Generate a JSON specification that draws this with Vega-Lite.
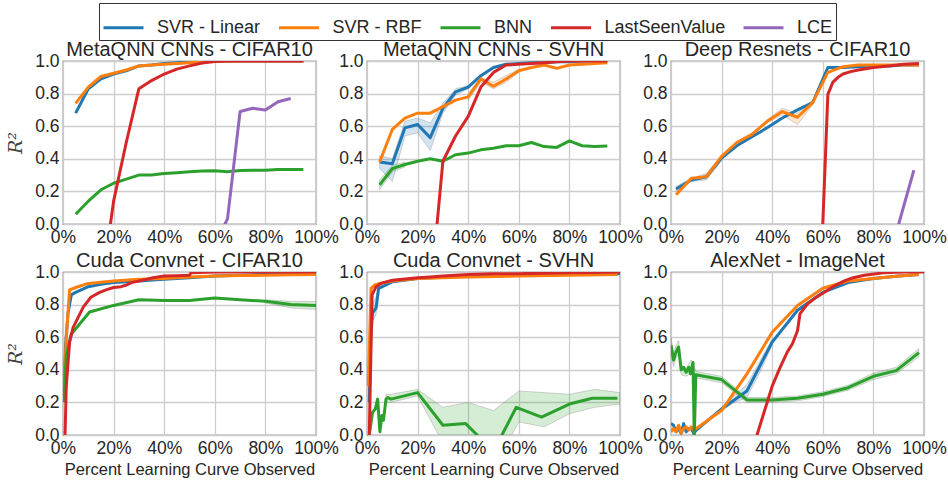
{
  "$schema": "https://vega.github.io/schema/vega-lite/v6.json",
  "padding": {"left": 6, "top": 2, "right": 0, "bottom": 0},
  "background": "white",
  "datasets": {
    "lines": [
      {"p":"A","s":"SVR - Linear","x":5,"y":0.68},{"p":"A","s":"SVR - Linear","x":10,"y":0.83},{"p":"A","s":"SVR - Linear","x":15,"y":0.89},{"p":"A","s":"SVR - Linear","x":20,"y":0.92},{"p":"A","s":"SVR - Linear","x":25,"y":0.94},{"p":"A","s":"SVR - Linear","x":30,"y":0.97},{"p":"A","s":"SVR - Linear","x":35,"y":0.975},{"p":"A","s":"SVR - Linear","x":40,"y":0.985},{"p":"A","s":"SVR - Linear","x":45,"y":0.99},{"p":"A","s":"SVR - Linear","x":50,"y":0.993},{"p":"A","s":"SVR - Linear","x":55,"y":0.996},{"p":"A","s":"SVR - Linear","x":60,"y":0.998},{"p":"A","s":"SVR - Linear","x":70,"y":1},{"p":"A","s":"SVR - Linear","x":80,"y":1},{"p":"A","s":"SVR - Linear","x":95,"y":1},
      {"p":"A","s":"SVR - RBF","x":5,"y":0.74},{"p":"A","s":"SVR - RBF","x":10,"y":0.84},{"p":"A","s":"SVR - RBF","x":15,"y":0.905},{"p":"A","s":"SVR - RBF","x":20,"y":0.925},{"p":"A","s":"SVR - RBF","x":25,"y":0.945},{"p":"A","s":"SVR - RBF","x":30,"y":0.97},{"p":"A","s":"SVR - RBF","x":35,"y":0.975},{"p":"A","s":"SVR - RBF","x":40,"y":0.98},{"p":"A","s":"SVR - RBF","x":45,"y":0.985},{"p":"A","s":"SVR - RBF","x":50,"y":0.99},{"p":"A","s":"SVR - RBF","x":55,"y":0.995},{"p":"A","s":"SVR - RBF","x":60,"y":0.998},{"p":"A","s":"SVR - RBF","x":70,"y":1},{"p":"A","s":"SVR - RBF","x":95,"y":1},
      {"p":"A","s":"BNN","x":5,"y":0.06},{"p":"A","s":"BNN","x":10,"y":0.14},{"p":"A","s":"BNN","x":15,"y":0.21},{"p":"A","s":"BNN","x":20,"y":0.25},{"p":"A","s":"BNN","x":25,"y":0.275},{"p":"A","s":"BNN","x":30,"y":0.3},{"p":"A","s":"BNN","x":35,"y":0.3},{"p":"A","s":"BNN","x":40,"y":0.31},{"p":"A","s":"BNN","x":45,"y":0.315},{"p":"A","s":"BNN","x":50,"y":0.32},{"p":"A","s":"BNN","x":55,"y":0.325},{"p":"A","s":"BNN","x":60,"y":0.327},{"p":"A","s":"BNN","x":65,"y":0.32},{"p":"A","s":"BNN","x":70,"y":0.328},{"p":"A","s":"BNN","x":75,"y":0.33},{"p":"A","s":"BNN","x":80,"y":0.33},{"p":"A","s":"BNN","x":85,"y":0.335},{"p":"A","s":"BNN","x":90,"y":0.335},{"p":"A","s":"BNN","x":95,"y":0.335},
      {"p":"A","s":"LastSeenValue","x":15,"y":-0.42},{"p":"A","s":"LastSeenValue","x":20,"y":0.14},{"p":"A","s":"LastSeenValue","x":25,"y":0.5},{"p":"A","s":"LastSeenValue","x":30,"y":0.83},{"p":"A","s":"LastSeenValue","x":35,"y":0.88},{"p":"A","s":"LastSeenValue","x":40,"y":0.92},{"p":"A","s":"LastSeenValue","x":45,"y":0.95},{"p":"A","s":"LastSeenValue","x":50,"y":0.97},{"p":"A","s":"LastSeenValue","x":55,"y":0.988},{"p":"A","s":"LastSeenValue","x":60,"y":0.997},{"p":"A","s":"LastSeenValue","x":65,"y":1},{"p":"A","s":"LastSeenValue","x":80,"y":1},{"p":"A","s":"LastSeenValue","x":95,"y":1},
      {"p":"A","s":"LCE","x":60,"y":-0.12},{"p":"A","s":"LCE","x":65,"y":0.03},{"p":"A","s":"LCE","x":70,"y":0.69},{"p":"A","s":"LCE","x":75,"y":0.71},{"p":"A","s":"LCE","x":80,"y":0.7},{"p":"A","s":"LCE","x":85,"y":0.75},{"p":"A","s":"LCE","x":90,"y":0.77},

      {"p":"B","s":"SVR - Linear","x":5,"y":0.38},{"p":"B","s":"SVR - Linear","x":10,"y":0.37},{"p":"B","s":"SVR - Linear","x":15,"y":0.59},{"p":"B","s":"SVR - Linear","x":20,"y":0.61},{"p":"B","s":"SVR - Linear","x":25,"y":0.53},{"p":"B","s":"SVR - Linear","x":30,"y":0.71},{"p":"B","s":"SVR - Linear","x":35,"y":0.81},{"p":"B","s":"SVR - Linear","x":40,"y":0.84},{"p":"B","s":"SVR - Linear","x":45,"y":0.91},{"p":"B","s":"SVR - Linear","x":50,"y":0.96},{"p":"B","s":"SVR - Linear","x":55,"y":0.98},{"p":"B","s":"SVR - Linear","x":60,"y":0.985},{"p":"B","s":"SVR - Linear","x":65,"y":0.99},{"p":"B","s":"SVR - Linear","x":70,"y":0.99},{"p":"B","s":"SVR - Linear","x":75,"y":0.995},{"p":"B","s":"SVR - Linear","x":80,"y":0.995},{"p":"B","s":"SVR - Linear","x":85,"y":1},{"p":"B","s":"SVR - Linear","x":95,"y":1},
      {"p":"B","s":"SVR - RBF","x":5,"y":0.38},{"p":"B","s":"SVR - RBF","x":10,"y":0.58},{"p":"B","s":"SVR - RBF","x":15,"y":0.65},{"p":"B","s":"SVR - RBF","x":20,"y":0.68},{"p":"B","s":"SVR - RBF","x":25,"y":0.68},{"p":"B","s":"SVR - RBF","x":30,"y":0.72},{"p":"B","s":"SVR - RBF","x":35,"y":0.76},{"p":"B","s":"SVR - RBF","x":40,"y":0.78},{"p":"B","s":"SVR - RBF","x":45,"y":0.89},{"p":"B","s":"SVR - RBF","x":50,"y":0.845},{"p":"B","s":"SVR - RBF","x":55,"y":0.89},{"p":"B","s":"SVR - RBF","x":60,"y":0.94},{"p":"B","s":"SVR - RBF","x":65,"y":0.96},{"p":"B","s":"SVR - RBF","x":70,"y":0.975},{"p":"B","s":"SVR - RBF","x":75,"y":0.955},{"p":"B","s":"SVR - RBF","x":80,"y":0.975},{"p":"B","s":"SVR - RBF","x":85,"y":0.98},{"p":"B","s":"SVR - RBF","x":90,"y":0.985},{"p":"B","s":"SVR - RBF","x":95,"y":0.99},
      {"p":"B","s":"BNN","x":5,"y":0.24},{"p":"B","s":"BNN","x":10,"y":0.34},{"p":"B","s":"BNN","x":15,"y":0.365},{"p":"B","s":"BNN","x":20,"y":0.385},{"p":"B","s":"BNN","x":25,"y":0.4},{"p":"B","s":"BNN","x":30,"y":0.385},{"p":"B","s":"BNN","x":35,"y":0.425},{"p":"B","s":"BNN","x":40,"y":0.435},{"p":"B","s":"BNN","x":45,"y":0.455},{"p":"B","s":"BNN","x":50,"y":0.465},{"p":"B","s":"BNN","x":55,"y":0.48},{"p":"B","s":"BNN","x":60,"y":0.48},{"p":"B","s":"BNN","x":65,"y":0.5},{"p":"B","s":"BNN","x":70,"y":0.475},{"p":"B","s":"BNN","x":75,"y":0.47},{"p":"B","s":"BNN","x":80,"y":0.51},{"p":"B","s":"BNN","x":85,"y":0.48},{"p":"B","s":"BNN","x":90,"y":0.475},{"p":"B","s":"BNN","x":95,"y":0.478},
      {"p":"B","s":"LastSeenValue","x":25,"y":-0.45},{"p":"B","s":"LastSeenValue","x":30,"y":0.385},{"p":"B","s":"LastSeenValue","x":35,"y":0.54},{"p":"B","s":"LastSeenValue","x":40,"y":0.66},{"p":"B","s":"LastSeenValue","x":45,"y":0.84},{"p":"B","s":"LastSeenValue","x":50,"y":0.93},{"p":"B","s":"LastSeenValue","x":55,"y":0.975},{"p":"B","s":"LastSeenValue","x":60,"y":0.98},{"p":"B","s":"LastSeenValue","x":65,"y":0.985},{"p":"B","s":"LastSeenValue","x":70,"y":0.99},{"p":"B","s":"LastSeenValue","x":75,"y":0.995},{"p":"B","s":"LastSeenValue","x":80,"y":1},{"p":"B","s":"LastSeenValue","x":95,"y":1},

      {"p":"C","s":"SVR - Linear","x":2,"y":0.215},{"p":"C","s":"SVR - Linear","x":8,"y":0.27},{"p":"C","s":"SVR - Linear","x":14,"y":0.29},{"p":"C","s":"SVR - Linear","x":20,"y":0.405},{"p":"C","s":"SVR - Linear","x":26,"y":0.48},{"p":"C","s":"SVR - Linear","x":32,"y":0.535},{"p":"C","s":"SVR - Linear","x":38,"y":0.59},{"p":"C","s":"SVR - Linear","x":44,"y":0.65},{"p":"C","s":"SVR - Linear","x":50,"y":0.7},{"p":"C","s":"SVR - Linear","x":56,"y":0.745},{"p":"C","s":"SVR - Linear","x":62,"y":0.96},{"p":"C","s":"SVR - Linear","x":68,"y":0.96},{"p":"C","s":"SVR - Linear","x":74,"y":0.965},{"p":"C","s":"SVR - Linear","x":80,"y":0.97},{"p":"C","s":"SVR - Linear","x":86,"y":0.97},{"p":"C","s":"SVR - Linear","x":92,"y":0.975},{"p":"C","s":"SVR - Linear","x":98,"y":0.975},
      {"p":"C","s":"SVR - RBF","x":2,"y":0.18},{"p":"C","s":"SVR - RBF","x":8,"y":0.28},{"p":"C","s":"SVR - RBF","x":14,"y":0.29},{"p":"C","s":"SVR - RBF","x":20,"y":0.415},{"p":"C","s":"SVR - RBF","x":26,"y":0.5},{"p":"C","s":"SVR - RBF","x":32,"y":0.55},{"p":"C","s":"SVR - RBF","x":38,"y":0.63},{"p":"C","s":"SVR - RBF","x":44,"y":0.69},{"p":"C","s":"SVR - RBF","x":50,"y":0.655},{"p":"C","s":"SVR - RBF","x":56,"y":0.745},{"p":"C","s":"SVR - RBF","x":62,"y":0.93},{"p":"C","s":"SVR - RBF","x":68,"y":0.965},{"p":"C","s":"SVR - RBF","x":74,"y":0.975},{"p":"C","s":"SVR - RBF","x":80,"y":0.975},{"p":"C","s":"SVR - RBF","x":86,"y":0.975},{"p":"C","s":"SVR - RBF","x":92,"y":0.975},{"p":"C","s":"SVR - RBF","x":98,"y":0.975},
      {"p":"C","s":"LastSeenValue","x":56,"y":-1.3},{"p":"C","s":"LastSeenValue","x":60,"y":0},{"p":"C","s":"LastSeenValue","x":62,"y":0.795},{"p":"C","s":"LastSeenValue","x":64,"y":0.87},{"p":"C","s":"LastSeenValue","x":66,"y":0.9},{"p":"C","s":"LastSeenValue","x":68,"y":0.92},{"p":"C","s":"LastSeenValue","x":71,"y":0.935},{"p":"C","s":"LastSeenValue","x":74,"y":0.945},{"p":"C","s":"LastSeenValue","x":80,"y":0.96},{"p":"C","s":"LastSeenValue","x":86,"y":0.97},{"p":"C","s":"LastSeenValue","x":92,"y":0.98},{"p":"C","s":"LastSeenValue","x":98,"y":0.985},
      {"p":"C","s":"LCE","x":86,"y":-0.22},{"p":"C","s":"LCE","x":96,"y":0.33},

      {"p":"D","s":"SVR - Linear","x":0.5,"y":0.3},{"p":"D","s":"SVR - Linear","x":1,"y":0.55},{"p":"D","s":"SVR - Linear","x":2,"y":0.75},{"p":"D","s":"SVR - Linear","x":3.3,"y":0.86},{"p":"D","s":"SVR - Linear","x":5,"y":0.875},{"p":"D","s":"SVR - Linear","x":10,"y":0.91},{"p":"D","s":"SVR - Linear","x":15,"y":0.925},{"p":"D","s":"SVR - Linear","x":20,"y":0.935},{"p":"D","s":"SVR - Linear","x":30,"y":0.945},{"p":"D","s":"SVR - Linear","x":40,"y":0.955},{"p":"D","s":"SVR - Linear","x":50,"y":0.965},{"p":"D","s":"SVR - Linear","x":60,"y":0.975},{"p":"D","s":"SVR - Linear","x":70,"y":0.98},{"p":"D","s":"SVR - Linear","x":80,"y":0.985},{"p":"D","s":"SVR - Linear","x":90,"y":0.99},{"p":"D","s":"SVR - Linear","x":100,"y":0.99},
      {"p":"D","s":"SVR - RBF","x":0.5,"y":0.3},{"p":"D","s":"SVR - RBF","x":1.3,"y":0.6},{"p":"D","s":"SVR - RBF","x":2.6,"y":0.89},{"p":"D","s":"SVR - RBF","x":5,"y":0.905},{"p":"D","s":"SVR - RBF","x":10,"y":0.93},{"p":"D","s":"SVR - RBF","x":20,"y":0.945},{"p":"D","s":"SVR - RBF","x":30,"y":0.955},{"p":"D","s":"SVR - RBF","x":40,"y":0.96},{"p":"D","s":"SVR - RBF","x":50,"y":0.97},{"p":"D","s":"SVR - RBF","x":60,"y":0.975},{"p":"D","s":"SVR - RBF","x":70,"y":0.978},{"p":"D","s":"SVR - RBF","x":80,"y":0.98},{"p":"D","s":"SVR - RBF","x":90,"y":0.983},{"p":"D","s":"SVR - RBF","x":100,"y":0.985},
      {"p":"D","s":"BNN","x":0.3,"y":0.2},{"p":"D","s":"BNN","x":1.3,"y":0.49},{"p":"D","s":"BNN","x":3.3,"y":0.62},{"p":"D","s":"BNN","x":10.5,"y":0.755},{"p":"D","s":"BNN","x":20,"y":0.795},{"p":"D","s":"BNN","x":30,"y":0.83},{"p":"D","s":"BNN","x":40,"y":0.825},{"p":"D","s":"BNN","x":50,"y":0.825},{"p":"D","s":"BNN","x":60,"y":0.84},{"p":"D","s":"BNN","x":70,"y":0.83},{"p":"D","s":"BNN","x":80,"y":0.82},{"p":"D","s":"BNN","x":90,"y":0.8},{"p":"D","s":"BNN","x":100,"y":0.795},
      {"p":"D","s":"LastSeenValue","x":0.3,"y":-0.5},{"p":"D","s":"LastSeenValue","x":0.8,"y":0},{"p":"D","s":"LastSeenValue","x":1.3,"y":0.3},{"p":"D","s":"LastSeenValue","x":2.6,"y":0.57},{"p":"D","s":"LastSeenValue","x":4,"y":0.66},{"p":"D","s":"LastSeenValue","x":5.3,"y":0.7},{"p":"D","s":"LastSeenValue","x":8,"y":0.785},{"p":"D","s":"LastSeenValue","x":11,"y":0.845},{"p":"D","s":"LastSeenValue","x":14.5,"y":0.875},{"p":"D","s":"LastSeenValue","x":17,"y":0.89},{"p":"D","s":"LastSeenValue","x":20,"y":0.905},{"p":"D","s":"LastSeenValue","x":23,"y":0.91},{"p":"D","s":"LastSeenValue","x":25,"y":0.92},{"p":"D","s":"LastSeenValue","x":27,"y":0.935},{"p":"D","s":"LastSeenValue","x":30,"y":0.945},{"p":"D","s":"LastSeenValue","x":33,"y":0.955},{"p":"D","s":"LastSeenValue","x":35.5,"y":0.965},{"p":"D","s":"LastSeenValue","x":40,"y":0.975},{"p":"D","s":"LastSeenValue","x":45,"y":0.977},{"p":"D","s":"LastSeenValue","x":50,"y":0.98},{"p":"D","s":"LastSeenValue","x":50.6,"y":0.995},{"p":"D","s":"LastSeenValue","x":60,"y":1},{"p":"D","s":"LastSeenValue","x":100,"y":1},

      {"p":"E","s":"SVR - Linear","x":0.9,"y":0.2},{"p":"E","s":"SVR - Linear","x":1.5,"y":0.6},{"p":"E","s":"SVR - Linear","x":2.2,"y":0.75},{"p":"E","s":"SVR - Linear","x":3.6,"y":0.78},{"p":"E","s":"SVR - Linear","x":4.6,"y":0.9},{"p":"E","s":"SVR - Linear","x":10,"y":0.94},{"p":"E","s":"SVR - Linear","x":20,"y":0.96},{"p":"E","s":"SVR - Linear","x":40,"y":0.975},{"p":"E","s":"SVR - Linear","x":60,"y":0.98},{"p":"E","s":"SVR - Linear","x":80,"y":0.985},{"p":"E","s":"SVR - Linear","x":100,"y":0.99},
      {"p":"E","s":"SVR - RBF","x":0.5,"y":0.3},{"p":"E","s":"SVR - RBF","x":1.6,"y":0.9},{"p":"E","s":"SVR - RBF","x":3,"y":0.92},{"p":"E","s":"SVR - RBF","x":5,"y":0.93},{"p":"E","s":"SVR - RBF","x":10,"y":0.945},{"p":"E","s":"SVR - RBF","x":20,"y":0.96},{"p":"E","s":"SVR - RBF","x":40,"y":0.97},{"p":"E","s":"SVR - RBF","x":60,"y":0.975},{"p":"E","s":"SVR - RBF","x":80,"y":0.98},{"p":"E","s":"SVR - RBF","x":99,"y":0.985},
      {"p":"E","s":"BNN","x":0.9,"y":0},{"p":"E","s":"BNN","x":2.2,"y":0.14},{"p":"E","s":"BNN","x":3.3,"y":0.16},{"p":"E","s":"BNN","x":4.2,"y":0.22},{"p":"E","s":"BNN","x":5.1,"y":0.02},{"p":"E","s":"BNN","x":5.9,"y":0.12},{"p":"E","s":"BNN","x":6.5,"y":0.09},{"p":"E","s":"BNN","x":7.5,"y":0.22},{"p":"E","s":"BNN","x":8.2,"y":0.23},{"p":"E","s":"BNN","x":9.5,"y":0.22},{"p":"E","s":"BNN","x":20,"y":0.26},{"p":"E","s":"BNN","x":30,"y":0.06},{"p":"E","s":"BNN","x":39,"y":0.07},{"p":"E","s":"BNN","x":50,"y":-0.1},{"p":"E","s":"BNN","x":59,"y":0.17},{"p":"E","s":"BNN","x":69,"y":0.11},{"p":"E","s":"BNN","x":80,"y":0.19},{"p":"E","s":"BNN","x":89,"y":0.225},{"p":"E","s":"BNN","x":99,"y":0.225},
      {"p":"E","s":"LastSeenValue","x":0.5,"y":-0.5},{"p":"E","s":"LastSeenValue","x":0.9,"y":0},{"p":"E","s":"LastSeenValue","x":2,"y":0.86},{"p":"E","s":"LastSeenValue","x":3.6,"y":0.91},{"p":"E","s":"LastSeenValue","x":5.5,"y":0.93},{"p":"E","s":"LastSeenValue","x":10,"y":0.95},{"p":"E","s":"LastSeenValue","x":20,"y":0.965},{"p":"E","s":"LastSeenValue","x":25,"y":0.97},{"p":"E","s":"LastSeenValue","x":30,"y":0.975},{"p":"E","s":"LastSeenValue","x":40,"y":0.985},{"p":"E","s":"LastSeenValue","x":50,"y":0.99},{"p":"E","s":"LastSeenValue","x":60,"y":0.99},{"p":"E","s":"LastSeenValue","x":70,"y":0.993},{"p":"E","s":"LastSeenValue","x":80,"y":0.995},{"p":"E","s":"LastSeenValue","x":90,"y":0.997},{"p":"E","s":"LastSeenValue","x":100,"y":1},

      {"p":"F","s":"SVR - Linear","x":0,"y":0.07},{"p":"F","s":"SVR - Linear","x":1,"y":0.06},{"p":"F","s":"SVR - Linear","x":2,"y":0.02},{"p":"F","s":"SVR - Linear","x":3,"y":0.04},{"p":"F","s":"SVR - Linear","x":4,"y":0.01},{"p":"F","s":"SVR - Linear","x":5,"y":0.07},{"p":"F","s":"SVR - Linear","x":6,"y":0.02},{"p":"F","s":"SVR - Linear","x":7,"y":0.04},{"p":"F","s":"SVR - Linear","x":8,"y":0.04},{"p":"F","s":"SVR - Linear","x":9,"y":0.01},{"p":"F","s":"SVR - Linear","x":10,"y":0.03},{"p":"F","s":"SVR - Linear","x":20,"y":0.16},{"p":"F","s":"SVR - Linear","x":30,"y":0.27},{"p":"F","s":"SVR - Linear","x":40,"y":0.57},{"p":"F","s":"SVR - Linear","x":50,"y":0.765},{"p":"F","s":"SVR - Linear","x":60,"y":0.875},{"p":"F","s":"SVR - Linear","x":70,"y":0.935},{"p":"F","s":"SVR - Linear","x":80,"y":0.96},{"p":"F","s":"SVR - Linear","x":90,"y":0.975},{"p":"F","s":"SVR - Linear","x":98,"y":0.985},
      {"p":"F","s":"SVR - RBF","x":0,"y":0.02},{"p":"F","s":"SVR - RBF","x":1,"y":0.04},{"p":"F","s":"SVR - RBF","x":2,"y":0.02},{"p":"F","s":"SVR - RBF","x":3,"y":0.06},{"p":"F","s":"SVR - RBF","x":4,"y":0.01},{"p":"F","s":"SVR - RBF","x":5,"y":0.04},{"p":"F","s":"SVR - RBF","x":6,"y":0.05},{"p":"F","s":"SVR - RBF","x":7,"y":0.03},{"p":"F","s":"SVR - RBF","x":8,"y":0.05},{"p":"F","s":"SVR - RBF","x":9,"y":0.03},{"p":"F","s":"SVR - RBF","x":10,"y":0.04},{"p":"F","s":"SVR - RBF","x":20,"y":0.15},{"p":"F","s":"SVR - RBF","x":30,"y":0.375},{"p":"F","s":"SVR - RBF","x":40,"y":0.63},{"p":"F","s":"SVR - RBF","x":50,"y":0.795},{"p":"F","s":"SVR - RBF","x":60,"y":0.9},{"p":"F","s":"SVR - RBF","x":70,"y":0.945},{"p":"F","s":"SVR - RBF","x":80,"y":0.96},{"p":"F","s":"SVR - RBF","x":90,"y":0.975},{"p":"F","s":"SVR - RBF","x":98,"y":0.985},
      {"p":"F","s":"BNN","x":0,"y":0.55},{"p":"F","s":"BNN","x":1,"y":0.46},{"p":"F","s":"BNN","x":2,"y":0.51},{"p":"F","s":"BNN","x":3,"y":0.54},{"p":"F","s":"BNN","x":4,"y":0.4},{"p":"F","s":"BNN","x":5,"y":0.415},{"p":"F","s":"BNN","x":6,"y":0.385},{"p":"F","s":"BNN","x":7,"y":0.415},{"p":"F","s":"BNN","x":7.7,"y":0.375},{"p":"F","s":"BNN","x":8.7,"y":0.445},{"p":"F","s":"BNN","x":9.2,"y":-0.02},{"p":"F","s":"BNN","x":9.8,"y":0.37},{"p":"F","s":"BNN","x":20,"y":0.34},{"p":"F","s":"BNN","x":30,"y":0.215},{"p":"F","s":"BNN","x":40,"y":0.215},{"p":"F","s":"BNN","x":50,"y":0.225},{"p":"F","s":"BNN","x":60,"y":0.25},{"p":"F","s":"BNN","x":70,"y":0.29},{"p":"F","s":"BNN","x":80,"y":0.36},{"p":"F","s":"BNN","x":89,"y":0.395},{"p":"F","s":"BNN","x":98,"y":0.505},
      {"p":"F","s":"LastSeenValue","x":30,"y":-0.2},{"p":"F","s":"LastSeenValue","x":34,"y":0},{"p":"F","s":"LastSeenValue","x":37,"y":0.15},{"p":"F","s":"LastSeenValue","x":40,"y":0.3},{"p":"F","s":"LastSeenValue","x":43,"y":0.41},{"p":"F","s":"LastSeenValue","x":46,"y":0.51},{"p":"F","s":"LastSeenValue","x":48,"y":0.56},{"p":"F","s":"LastSeenValue","x":50,"y":0.64},{"p":"F","s":"LastSeenValue","x":51,"y":0.745},{"p":"F","s":"LastSeenValue","x":54,"y":0.805},{"p":"F","s":"LastSeenValue","x":57,"y":0.84},{"p":"F","s":"LastSeenValue","x":60,"y":0.87},{"p":"F","s":"LastSeenValue","x":64,"y":0.91},{"p":"F","s":"LastSeenValue","x":68.5,"y":0.945},{"p":"F","s":"LastSeenValue","x":72,"y":0.965},{"p":"F","s":"LastSeenValue","x":76.5,"y":0.98},{"p":"F","s":"LastSeenValue","x":84,"y":0.995},{"p":"F","s":"LastSeenValue","x":92,"y":1},{"p":"F","s":"LastSeenValue","x":100,"y":1}
    ],
    "bands": [
      {"p":"B","s":"SVR - Linear","x":5,"lo":0.34,"hi":0.42},{"p":"B","s":"SVR - Linear","x":10,"lo":0.26,"hi":0.4},{"p":"B","s":"SVR - Linear","x":15,"lo":0.54,"hi":0.63},{"p":"B","s":"SVR - Linear","x":20,"lo":0.56,"hi":0.65},{"p":"B","s":"SVR - Linear","x":25,"lo":0.45,"hi":0.62},{"p":"B","s":"SVR - Linear","x":30,"lo":0.68,"hi":0.74},{"p":"B","s":"SVR - Linear","x":35,"lo":0.79,"hi":0.83},{"p":"B","s":"SVR - Linear","x":40,"lo":0.83,"hi":0.85},
      {"p":"B","s":"SVR - RBF","x":40,"lo":0.76,"hi":0.8},{"p":"B","s":"SVR - RBF","x":45,"lo":0.87,"hi":0.9},{"p":"B","s":"SVR - RBF","x":50,"lo":0.83,"hi":0.87},{"p":"B","s":"SVR - RBF","x":55,"lo":0.87,"hi":0.91},{"p":"B","s":"SVR - RBF","x":60,"lo":0.93,"hi":0.95},
      {"p":"B","s":"BNN","x":5,"lo":0.21,"hi":0.27},{"p":"B","s":"BNN","x":10,"lo":0.32,"hi":0.36},{"p":"B","s":"BNN","x":15,"lo":0.35,"hi":0.38},
      {"p":"C","s":"SVR - Linear","x":2,"lo":0.2,"hi":0.23},{"p":"C","s":"SVR - Linear","x":8,"lo":0.26,"hi":0.28},{"p":"C","s":"SVR - Linear","x":14,"lo":0.27,"hi":0.31},{"p":"C","s":"SVR - Linear","x":20,"lo":0.39,"hi":0.42},
      {"p":"C","s":"SVR - RBF","x":38,"lo":0.62,"hi":0.64},{"p":"C","s":"SVR - RBF","x":44,"lo":0.67,"hi":0.71},{"p":"C","s":"SVR - RBF","x":50,"lo":0.61,"hi":0.68},{"p":"C","s":"SVR - RBF","x":56,"lo":0.73,"hi":0.76},
      {"p":"D","s":"BNN","x":80,"lo":0.81,"hi":0.83},{"p":"D","s":"BNN","x":90,"lo":0.78,"hi":0.82},{"p":"D","s":"BNN","x":100,"lo":0.77,"hi":0.82},
      {"p":"E","s":"SVR - Linear","x":2.2,"lo":0.7,"hi":0.8},{"p":"E","s":"SVR - Linear","x":3.6,"lo":0.74,"hi":0.85},{"p":"E","s":"SVR - Linear","x":4.6,"lo":0.87,"hi":0.92},
      {"p":"E","s":"BNN","x":7.5,"lo":0.2,"hi":0.25},{"p":"E","s":"BNN","x":9.5,"lo":0.2,"hi":0.25},{"p":"E","s":"BNN","x":20,"lo":0.24,"hi":0.28},{"p":"E","s":"BNN","x":30,"lo":-0.05,"hi":0.17},{"p":"E","s":"BNN","x":40,"lo":-0.08,"hi":0.2},{"p":"E","s":"BNN","x":50,"lo":-0.2,"hi":0.15},{"p":"E","s":"BNN","x":60,"lo":0.08,"hi":0.27},{"p":"E","s":"BNN","x":70,"lo":0.05,"hi":0.26},{"p":"E","s":"BNN","x":80,"lo":0.13,"hi":0.25},{"p":"E","s":"BNN","x":90,"lo":0.17,"hi":0.28},{"p":"E","s":"BNN","x":100,"lo":0.19,"hi":0.26},
      {"p":"F","s":"BNN","x":0,"lo":0.5,"hi":0.6},{"p":"F","s":"BNN","x":1,"lo":0.42,"hi":0.5},{"p":"F","s":"BNN","x":2,"lo":0.47,"hi":0.55},{"p":"F","s":"BNN","x":3,"lo":0.5,"hi":0.58},{"p":"F","s":"BNN","x":4,"lo":0.37,"hi":0.43},{"p":"F","s":"BNN","x":6,"lo":0.36,"hi":0.41},{"p":"F","s":"BNN","x":8,"lo":0.38,"hi":0.46},{"p":"F","s":"BNN","x":10,"lo":0.35,"hi":0.39},{"p":"F","s":"BNN","x":20,"lo":0.32,"hi":0.36},{"p":"F","s":"BNN","x":30,"lo":0.2,"hi":0.23},{"p":"F","s":"BNN","x":40,"lo":0.2,"hi":0.23},{"p":"F","s":"BNN","x":50,"lo":0.21,"hi":0.24},{"p":"F","s":"BNN","x":60,"lo":0.235,"hi":0.265},{"p":"F","s":"BNN","x":70,"lo":0.275,"hi":0.305},{"p":"F","s":"BNN","x":80,"lo":0.34,"hi":0.38},{"p":"F","s":"BNN","x":89,"lo":0.375,"hi":0.415},{"p":"F","s":"BNN","x":98,"lo":0.48,"hi":0.53},
      {"p":"F","s":"SVR - Linear","x":20,"lo":0.15,"hi":0.17},{"p":"F","s":"SVR - Linear","x":25,"lo":0.2,"hi":0.24},{"p":"F","s":"SVR - Linear","x":30,"lo":0.23,"hi":0.31},{"p":"F","s":"SVR - Linear","x":35,"lo":0.38,"hi":0.45},{"p":"F","s":"SVR - Linear","x":40,"lo":0.55,"hi":0.59}
    ]
  },
  "columns": 3,
  "bounds": "flush",
  "spacing": {"row": 48, "column": 51},
  "concat": [
    {"width":253,"height":163,"title":"MetaQNN CNNs - CIFAR10",
     "encoding":{"x":{"field":"x","type":"quantitative","scale":{"domain":[0,100]},"axis":{"title":null,"values":[0,20,40,60,80,100],"labelExpr":"datum.value + '%'"}}},
     "layer":[
      {"data":{"name":"bands"},"transform":[{"filter":"datum.p === 'A'"}],"mark":{"type":"area","clip":true,"fillOpacity":0.2,"stroke":"#888888","strokeOpacity":0.35,"strokeWidth":1},
       "encoding":{"y":{"field":"lo","type":"quantitative","scale":{"domain":[0,1]},"axis":{"title":"R²","titleFont":"DejaVu Serif","titleFontStyle":"italic","titleFontSize":19,"titleColor":"#444444","titlePadding":9,"values":[0,0.2,0.4,0.6,0.8,1],"format":".1f","labelOverlap":false}},"y2":{"field":"hi"},"fill":{"field":"s","type":"nominal","scale":{"domain":["SVR - Linear","SVR - RBF","BNN"],"range":["#1f77b4","#ff7f0e","#2ca02c"]},"legend":null}}},
      {"data":{"name":"lines"},"transform":[{"filter":"datum.p === 'A'"}],"mark":{"type":"line","clip":true,"strokeWidth":3},
       "encoding":{"y":{"field":"y","type":"quantitative","axis":{"title":"R²","titleFont":"DejaVu Serif","titleFontStyle":"italic","titleFontSize":19,"titleColor":"#444444","titlePadding":9,"values":[0,0.2,0.4,0.6,0.8,1],"format":".1f","labelOverlap":false}},"color":{"field":"s","type":"nominal","scale":{"domain":["SVR - Linear","SVR - RBF","BNN","LastSeenValue","LCE"],"range":["#1f77b4","#ff7f0e","#2ca02c","#d62728","#9467bd"]},
         "legend":{"orient":"none","legendX":36,"legendY":-58,"direction":"horizontal","columns":5,"title":null,"symbolType":"stroke","symbolSize":1600,"symbolStrokeWidth":3,"labelFontSize":18,"labelColor":"#262626","labelOffset":12,"columnPadding":16.5,"padding":3,"strokeColor":"#333333","fillColor":"white"}}}}
     ]},
    {"width":253,"height":163,"title":"MetaQNN CNNs - SVHN",
     "encoding":{"x":{"field":"x","type":"quantitative","scale":{"domain":[0,100]},"axis":{"title":null,"values":[0,20,40,60,80,100],"labelExpr":"datum.value + '%'"}}},
     "layer":[
      {"data":{"name":"bands"},"transform":[{"filter":"datum.p === 'B'"}],"mark":{"type":"area","clip":true,"fillOpacity":0.2,"stroke":"#888888","strokeOpacity":0.35,"strokeWidth":1},
       "encoding":{"y":{"field":"lo","type":"quantitative","scale":{"domain":[0,1]},"axis":{"title":null,"values":[0,0.2,0.4,0.6,0.8,1],"format":".1f","labelOverlap":false}},"y2":{"field":"hi"},"fill":{"field":"s","type":"nominal","scale":{"domain":["SVR - Linear","SVR - RBF","BNN"],"range":["#1f77b4","#ff7f0e","#2ca02c"]},"legend":null}}},
      {"data":{"name":"lines"},"transform":[{"filter":"datum.p === 'B'"}],"mark":{"type":"line","clip":true,"strokeWidth":3},
       "encoding":{"y":{"field":"y","type":"quantitative","axis":{"title":null,"values":[0,0.2,0.4,0.6,0.8,1],"format":".1f","labelOverlap":false}},"color":{"field":"s","type":"nominal","scale":{"domain":["SVR - Linear","SVR - RBF","BNN","LastSeenValue","LCE"],"range":["#1f77b4","#ff7f0e","#2ca02c","#d62728","#9467bd"]}}}}
     ]},
    {"width":253,"height":163,"title":"Deep Resnets - CIFAR10",
     "encoding":{"x":{"field":"x","type":"quantitative","scale":{"domain":[0,100]},"axis":{"title":null,"values":[0,20,40,60,80,100],"labelExpr":"datum.value + '%'"}}},
     "layer":[
      {"data":{"name":"bands"},"transform":[{"filter":"datum.p === 'C'"}],"mark":{"type":"area","clip":true,"fillOpacity":0.2,"stroke":"#888888","strokeOpacity":0.35,"strokeWidth":1},
       "encoding":{"y":{"field":"lo","type":"quantitative","scale":{"domain":[0,1]},"axis":{"title":null,"values":[0,0.2,0.4,0.6,0.8,1],"format":".1f","labelOverlap":false}},"y2":{"field":"hi"},"fill":{"field":"s","type":"nominal","scale":{"domain":["SVR - Linear","SVR - RBF","BNN"],"range":["#1f77b4","#ff7f0e","#2ca02c"]},"legend":null}}},
      {"data":{"name":"lines"},"transform":[{"filter":"datum.p === 'C'"}],"mark":{"type":"line","clip":true,"strokeWidth":3},
       "encoding":{"y":{"field":"y","type":"quantitative","axis":{"title":null,"values":[0,0.2,0.4,0.6,0.8,1],"format":".1f","labelOverlap":false}},"color":{"field":"s","type":"nominal","scale":{"domain":["SVR - Linear","SVR - RBF","BNN","LastSeenValue","LCE"],"range":["#1f77b4","#ff7f0e","#2ca02c","#d62728","#9467bd"]}}}}
     ]},
    {"width":253,"height":163,"title":"Cuda Convnet - CIFAR10",
     "encoding":{"x":{"field":"x","type":"quantitative","scale":{"domain":[0,100]},"axis":{"title":"Percent Learning Curve Observed","titlePadding":5,"values":[0,20,40,60,80,100],"labelExpr":"datum.value + '%'"}}},
     "layer":[
      {"data":{"name":"bands"},"transform":[{"filter":"datum.p === 'D'"}],"mark":{"type":"area","clip":true,"fillOpacity":0.2,"stroke":"#888888","strokeOpacity":0.35,"strokeWidth":1},
       "encoding":{"y":{"field":"lo","type":"quantitative","scale":{"domain":[0,1]},"axis":{"title":"R²","titleFont":"DejaVu Serif","titleFontStyle":"italic","titleFontSize":19,"titleColor":"#444444","titlePadding":9,"values":[0,0.2,0.4,0.6,0.8,1],"format":".1f","labelOverlap":false}},"y2":{"field":"hi"},"fill":{"field":"s","type":"nominal","scale":{"domain":["SVR - Linear","SVR - RBF","BNN"],"range":["#1f77b4","#ff7f0e","#2ca02c"]},"legend":null}}},
      {"data":{"name":"lines"},"transform":[{"filter":"datum.p === 'D'"}],"mark":{"type":"line","clip":true,"strokeWidth":3},
       "encoding":{"y":{"field":"y","type":"quantitative","axis":{"title":"R²","titleFont":"DejaVu Serif","titleFontStyle":"italic","titleFontSize":19,"titleColor":"#444444","titlePadding":9,"values":[0,0.2,0.4,0.6,0.8,1],"format":".1f","labelOverlap":false}},"color":{"field":"s","type":"nominal","scale":{"domain":["SVR - Linear","SVR - RBF","BNN","LastSeenValue","LCE"],"range":["#1f77b4","#ff7f0e","#2ca02c","#d62728","#9467bd"]}}}}
     ]},
    {"width":253,"height":163,"title":"Cuda Convnet - SVHN",
     "encoding":{"x":{"field":"x","type":"quantitative","scale":{"domain":[0,100]},"axis":{"title":"Percent Learning Curve Observed","titlePadding":5,"values":[0,20,40,60,80,100],"labelExpr":"datum.value + '%'"}}},
     "layer":[
      {"data":{"name":"bands"},"transform":[{"filter":"datum.p === 'E'"}],"mark":{"type":"area","clip":true,"fillOpacity":0.2,"stroke":"#888888","strokeOpacity":0.35,"strokeWidth":1},
       "encoding":{"y":{"field":"lo","type":"quantitative","scale":{"domain":[0,1]},"axis":{"title":null,"values":[0,0.2,0.4,0.6,0.8,1],"format":".1f","labelOverlap":false}},"y2":{"field":"hi"},"fill":{"field":"s","type":"nominal","scale":{"domain":["SVR - Linear","SVR - RBF","BNN"],"range":["#1f77b4","#ff7f0e","#2ca02c"]},"legend":null}}},
      {"data":{"name":"lines"},"transform":[{"filter":"datum.p === 'E'"}],"mark":{"type":"line","clip":true,"strokeWidth":3},
       "encoding":{"y":{"field":"y","type":"quantitative","axis":{"title":null,"values":[0,0.2,0.4,0.6,0.8,1],"format":".1f","labelOverlap":false}},"color":{"field":"s","type":"nominal","scale":{"domain":["SVR - Linear","SVR - RBF","BNN","LastSeenValue","LCE"],"range":["#1f77b4","#ff7f0e","#2ca02c","#d62728","#9467bd"]}}}}
     ]},
    {"width":253,"height":163,"title":"AlexNet - ImageNet",
     "encoding":{"x":{"field":"x","type":"quantitative","scale":{"domain":[0,100]},"axis":{"title":"Percent Learning Curve Observed","titlePadding":5,"values":[0,20,40,60,80,100],"labelExpr":"datum.value + '%'"}}},
     "layer":[
      {"data":{"name":"bands"},"transform":[{"filter":"datum.p === 'F'"}],"mark":{"type":"area","clip":true,"fillOpacity":0.2,"stroke":"#888888","strokeOpacity":0.35,"strokeWidth":1},
       "encoding":{"y":{"field":"lo","type":"quantitative","scale":{"domain":[0,1]},"axis":{"title":null,"values":[0,0.2,0.4,0.6,0.8,1],"format":".1f","labelOverlap":false}},"y2":{"field":"hi"},"fill":{"field":"s","type":"nominal","scale":{"domain":["SVR - Linear","SVR - RBF","BNN"],"range":["#1f77b4","#ff7f0e","#2ca02c"]},"legend":null}}},
      {"data":{"name":"lines"},"transform":[{"filter":"datum.p === 'F'"}],"mark":{"type":"line","clip":true,"strokeWidth":3},
       "encoding":{"y":{"field":"y","type":"quantitative","axis":{"title":null,"values":[0,0.2,0.4,0.6,0.8,1],"format":".1f","labelOverlap":false}},"color":{"field":"s","type":"nominal","scale":{"domain":["SVR - Linear","SVR - RBF","BNN","LastSeenValue","LCE"],"range":["#1f77b4","#ff7f0e","#2ca02c","#d62728","#9467bd"]}}}}
     ]}
  ],
  "config": {
    "font": "Liberation Sans",
    "view": {"stroke": "#4d4d4d", "strokeWidth": 1.2},
    "axis": {"grid": true, "gridColor": "#cccccc", "gridWidth": 1.3, "domain": false, "ticks": false, "labelOverlap": false, "labelFlush": false, "labelFontSize": 17.5, "labelColor": "#262626", "labelFont": "Liberation Sans", "titleFontWeight": "normal", "titleColor": "#262626", "titleFont": "Liberation Sans", "titleFontSize": 16.5},
    "axisX": {"labelPadding": 4},
    "axisY": {"labelPadding": 4},
    "title": {"fontSize": 20, "fontWeight": "normal", "color": "#262626", "font": "Liberation Sans", "offset": -8},
    "legend": {"labelFont": "Liberation Sans"},
    "line": {"strokeCap": "butt", "strokeJoin": "round"}
  }
}
